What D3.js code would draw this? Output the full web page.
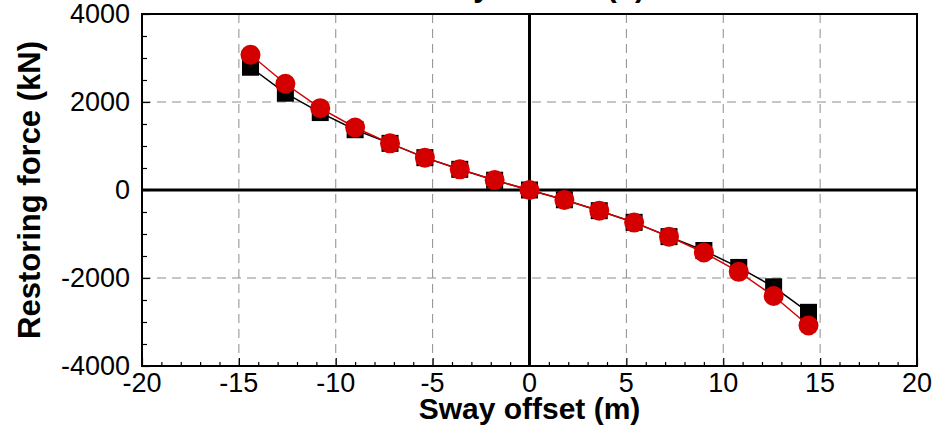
<!DOCTYPE html>
<html>
<head>
<meta charset="utf-8">
<script src="https://cdn.jsdelivr.net/npm/d3@7"></script>
<style>
  body { margin: 0; background: #fff; }
  svg { display: block; font-family: "Liberation Sans", Arial, sans-serif; }
</style>
</head>
<body>
<svg id="chart" width="941" height="433"></svg>
<script>
// sway offsets (m)
const offsets = [-14.4, -12.6, -10.8, -9, -7.2, -5.4, -3.6, -1.8, 0, 1.8, 3.6, 5.4, 7.2, 9, 10.8, 12.6, 14.4];
// restoring force (kN), black squares
const forceSquare = [2790, 2200, 1760, 1370, 1060, 735, 470, 222, 0, -222, -470, -735, -1060, -1375, -1760, -2200, -2780];
// restoring force (kN), red circles
const forceCircle = [3075, 2415, 1860, 1420, 1060, 735, 470, 225, 0, -225, -470, -740, -1060, -1420, -1860, -2410, -3080];

const xTicks = [-20, -15, -10, -5, 0, 5, 10, 15, 20];
const yTicks = [-4000, -2000, 0, 2000, 4000];

const svg = d3.select("#chart");
const plotL = 142, plotR = 917, plotT = 14, plotB = 366;

const x = d3.scaleLinear().domain([-20, 20]).range([plotL, plotR]);
const y = d3.scaleLinear().domain([-4000, 4000]).range([plotB, plotT]);

// title sits above the page edge, only its descenders show
svg.append("text")
    .attr("x", 645)
    .attr("y", -3)
    .attr("text-anchor", "end")
    .attr("font-weight", "bold")
    .attr("font-size", 30)
    .text("Sway motion (b)");

// dashed grid
const grid = svg.append("g").attr("stroke", "#8c8c8c").attr("stroke-width", 1).attr("stroke-dasharray", "9,6");
grid.selectAll(".gx")
    .data(xTicks.filter(d => d !== 0 && Math.abs(d) !== 20))
    .join("line")
    .attr("x1", d => x(d)).attr("x2", d => x(d))
    .attr("y1", plotT).attr("y2", plotB);
grid.selectAll(".gy")
    .data(yTicks.filter(d => d !== 0 && Math.abs(d) !== 4000))
    .join("line")
    .attr("x1", plotL).attr("x2", plotR)
    .attr("y1", d => y(d)).attr("y2", d => y(d));

// zero lines
svg.append("line")
    .attr("x1", x(0)).attr("x2", x(0)).attr("y1", plotT).attr("y2", plotB)
    .attr("stroke", "#000").attr("stroke-width", 3);
svg.append("line")
    .attr("x1", plotL).attr("x2", plotR).attr("y1", y(0)).attr("y2", y(0))
    .attr("stroke", "#000").attr("stroke-width", 3);

// axes with inward ticks
const xAxis = svg.append("g")
    .attr("transform", `translate(0,${plotB})`)
    .call(d3.axisBottom(x).tickValues(d3.range(-20, 21, 1)).tickSize(-4).tickFormat(""));
xAxis.selectAll(".tick")
    .filter(d => d % 5 === 0)
    .select("line").attr("y2", -8);
xAxis.selectAll(".tick line").attr("stroke-width", 1.2);
xAxis.select(".domain").remove();

const yAxis = svg.append("g")
    .attr("transform", `translate(${plotL},0)`)
    .call(d3.axisLeft(y).tickValues(d3.range(-4000, 4001, 500)).tickSize(-5).tickFormat(""));
yAxis.selectAll(".tick")
    .filter(d => d % 2000 === 0)
    .select("line").attr("x2", 8);
yAxis.selectAll(".tick line").attr("stroke-width", 1.2);
yAxis.select(".domain").remove();

// tick labels
svg.selectAll(".xlab")
    .data(xTicks)
    .join("text")
    .attr("x", d => x(d))
    .attr("y", 392)
    .attr("text-anchor", "middle")
    .attr("font-size", 27)
    .text(d => d);
svg.selectAll(".ylab")
    .data(yTicks)
    .join("text")
    .attr("x", 130)
    .attr("y", d => y(d) + 9)
    .attr("text-anchor", "end")
    .attr("font-size", 27)
    .text(d => d);

// frame
svg.append("rect")
    .attr("x", plotL).attr("y", plotT)
    .attr("width", plotR - plotL).attr("height", plotB - plotT)
    .attr("fill", "none").attr("stroke", "#000").attr("stroke-width", 2);

// axis titles
svg.append("text")
    .attr("x", (plotL + plotR) / 2)
    .attr("y", 419)
    .attr("text-anchor", "middle")
    .attr("font-weight", "bold")
    .attr("font-size", 30)
    .text("Sway offset (m)");
svg.append("text")
    .attr("transform", `translate(40,${(plotT + plotB) / 2}) rotate(-90)`)
    .attr("text-anchor", "middle")
    .attr("font-weight", "bold")
    .attr("font-size", 31)
    .text("Restoring force (kN)");

// series
const line = d3.line().x(d => x(d[0])).y(d => y(d[1]));
const sq = offsets.map((o, i) => [o, forceSquare[i]]);
const ci = offsets.map((o, i) => [o, forceCircle[i]]);

svg.append("path").datum(sq).attr("d", line)
    .attr("fill", "none").attr("stroke", "#000").attr("stroke-width", 1.5);
svg.selectAll(".sq")
    .data(sq)
    .join("rect")
    .attr("x", d => x(d[0]) - 8.5).attr("y", d => y(d[1]) - 8.5)
    .attr("width", 17).attr("height", 17)
    .attr("fill", "#000");

svg.append("path").datum(ci).attr("d", line)
    .attr("fill", "none").attr("stroke", "#d40000").attr("stroke-width", 1.5);
svg.selectAll(".ci")
    .data(ci)
    .join("circle")
    .attr("cx", d => x(d[0])).attr("cy", d => y(d[1]))
    .attr("r", 10)
    .attr("fill", "#d40000");
</script>
</body>
</html>
